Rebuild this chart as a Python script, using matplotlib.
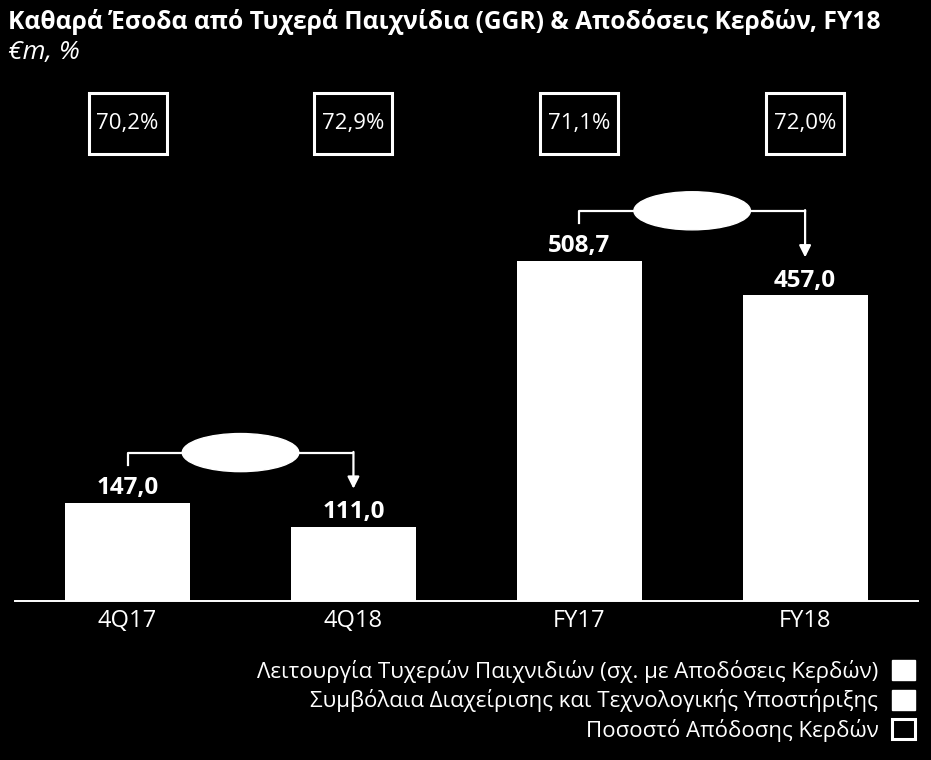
import matplotlib.pyplot as plt
from matplotlib.patches import Rectangle, Ellipse, Patch

plt.rcParams['font.family'] = ['Open Sans', 'DejaVu Sans']

# data
categories = ['4Q17', '4Q18', 'FY17', 'FY18']
ggr = [147.0, 111.0, 508.7, 457.0]
payout = [70.2, 72.9, 71.1, 72.0]
legend_labels = ['Λειτουργία Τυχερών Παιχνιδιών (σχ. με Αποδόσεις Κερδών)',
                 'Συμβόλαια Διαχείρισης και Τεχνολογικής Υποστήριξης',
                 'Ποσοστό Απόδοσης Κερδών']
pairs = [(0, 1), (2, 3)]

fig = plt.figure(figsize=(9.31, 7.6), dpi=100, facecolor='black')
ax = fig.add_axes([14.7 / 931, 159 / 760, 903.3 / 931, 601 / 760])
ax.set_facecolor('black')

x = range(len(categories))
ax.bar(x, ggr, width=0.553, color='white', zorder=2)
ax.set_xlim(-0.5, 3.5)
ax.set_ylim(0, 899)

for s in ['top', 'left', 'right']:
    ax.spines[s].set_visible(False)
ax.spines['bottom'].set_color('white')
ax.spines['bottom'].set_linewidth(1.4)
ax.set_yticks([])
ax.set_xticks(list(x))
ax.set_xticklabels(categories, color='white', fontsize=17)
ax.tick_params(axis='x', length=0, pad=6)

# value labels
for i, v in enumerate(ggr):
    ax.annotate(f'{v:.1f}'.replace('.', ','), (i, v), xytext=(0, 2),
                textcoords='offset points', ha='center', va='bottom',
                color='white', fontsize=17.5, fontweight='bold')

# payout boxes
for i, p in enumerate(payout):
    ax.add_patch(Rectangle((i - 0.1727, 669), 0.3455, 91, fill=False,
                           edgecolor='white', linewidth=2.2, clip_on=False))
    ax.text(i, 714, f'{p:.1f}%'.replace('.', ','), ha='center', va='center',
            color='white', fontsize=16)

# connectors with ellipses
for a, b in pairs:
    top = max(ggr[a], ggr[b]) + 75
    ax.plot([a, a, b], [ggr[a] + 57, top, top], color='white', lw=1.6, zorder=3)
    ax.annotate('', xy=(b, ggr[b] + 57), xytext=(b, top + 1),
                arrowprops=dict(arrowstyle='-|>,head_length=0.7,head_width=0.35',
                                color='white', lw=1.6, shrinkA=0, shrinkB=0),
                zorder=3)
    ax.add_patch(Ellipse(((a + b) / 2, top), 0.516, 57, facecolor='white',
                         edgecolor='white', zorder=4))

# title
fig.text(8 / 931, 1 - 22 / 760, 'Καθαρά Έσοδα από Τυχερά Παιχνίδια (GGR) & Αποδόσεις Κερδών, FY18',
         color='white', fontsize=17.7, fontweight='bold', va='center', ha='left')
fig.text(8 / 931, 1 - 53 / 760, '€m, %', color='white', fontsize=19,
         style='italic', va='center', ha='left')

# legend
handles = [Patch(facecolor='white', edgecolor='white'),
           Patch(facecolor='white', edgecolor='white'),
           Patch(facecolor='black', edgecolor='white', linewidth=2.2)]
leg = fig.legend(handles, legend_labels, loc='lower right',
                 bbox_to_anchor=(915 / 931, 18 / 760), frameon=False,
                 markerfirst=False, fontsize=16, labelcolor='white',
                 handlelength=1.05, handleheight=1.0, handletextpad=0.6,
                 labelspacing=0.3, borderpad=0, borderaxespad=0)
for t in leg.get_texts():
    t.set_ha('right')
leg._legend_box.align = 'right'

fig.savefig('out.png', dpi=100, facecolor='black')
